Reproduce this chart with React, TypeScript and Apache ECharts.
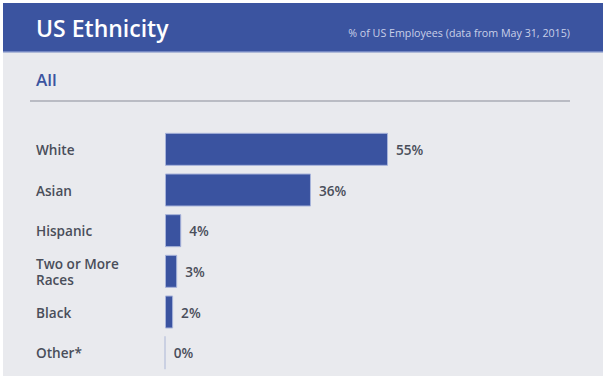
import React, { useEffect, useRef } from "react";
import * as echarts from "echarts";

const categories = ["White", "Asian", "Hispanic", "Two or More\nRaces", "Black", "Other*"];
const values = [55, 36, 4, 3, 2, 0];
const titleText = "US Ethnicity";
const subtitleText = "% of US Employees (data from May 31, 2015)";
const sectionText = "All";

const FONT = "'Open Sans', 'Noto Sans', sans-serif";

export default function App() {
  const ref = useRef<HTMLDivElement>(null);
  useEffect(() => {
    if (!ref.current) return;
    const chart = echarts.init(ref.current, undefined, { renderer: "svg" });
    chart.setOption({
      animation: false,
      backgroundColor: "#ffffff",
      graphic: [
        { type: "rect", z: -10, shape: { x: 3, y: 3, width: 600, height: 373 }, style: { fill: "#e9eaee" } },
        { type: "rect", z: -9, shape: { x: 3, y: 3, width: 600, height: 49 }, style: { fill: "#3b54a0" } },
        { type: "rect", z: -9, shape: { x: 3, y: 51, width: 600, height: 1.5 }, style: { fill: "#7487c2" } },
        {
          type: "text", x: 36, y: 28,
          style: { text: titleText, fill: "#ffffff", font: `600 23px ${FONT}`, verticalAlign: "middle", align: "left" },
        },
        {
          type: "text", x: 570, y: 33,
          style: { text: subtitleText, fill: "#c9d0e8", font: `400 10.7px ${FONT}`, verticalAlign: "middle", align: "right" },
        },
        {
          type: "text", x: 36, y: 79,
          style: { text: sectionText, fill: "#3b54a0", font: `600 17px ${FONT}`, verticalAlign: "middle", align: "left" },
        },
        { type: "line", shape: { x1: 30, y1: 101, x2: 570, y2: 101 }, style: { stroke: "#8a8d99", lineWidth: 1 } },
      ],
      grid: { left: 165, top: 129, width: 405.5, height: 244 },
      xAxis: { type: "value", min: 0, max: 100, show: false, splitLine: { show: false } },
      yAxis: {
        type: "category",
        data: categories,
        inverse: true,
        axisLine: { show: false },
        axisTick: { show: false },
        axisLabel: {
          align: "left",
          margin: 129,
          color: "#4a4e5a",
          fontFamily: FONT,
          fontWeight: 600,
          fontSize: 13.6,
          lineHeight: 16.5,
        },
      },
      series: [
        {
          type: "bar",
          barWidth: 33,
          data: values.map((v) => ({
            value: v,
            itemStyle:
              v === 0
                ? { color: "#c0c7de", borderColor: "#c0c7de", borderWidth: 1.5 }
                : { color: "#3a53a0", borderColor: "#a7b3da", borderWidth: 1 },
          })),
          label: {
            show: true,
            position: "right",
            distance: 8,
            formatter: "{c}%",
            color: "#4a4e5a",
            fontFamily: FONT,
            fontWeight: 600,
            fontSize: 13.6,
          },
        },
      ],
    });
    return () => chart.dispose();
  }, []);
  return <div ref={ref} style={{ position: "fixed", left: 0, top: 0, width: 609, height: 376 }} />;
}
